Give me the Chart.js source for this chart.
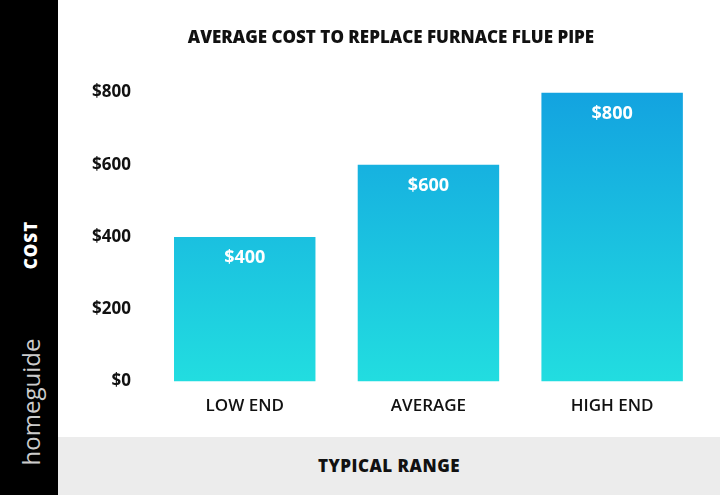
<!DOCTYPE html>
<html><head><meta charset="utf-8">
<script src="https://cdn.jsdelivr.net/npm/chart.js@4"></script>
<style>
body{margin:0;width:720px;height:495px;overflow:hidden;background:#fff;font-family:"Open Sans",sans-serif;position:relative}
#side{position:absolute;left:0;top:0;width:58px;height:495px;background:#000}
#cost{position:absolute;left:30px;top:245px;transform:translate(-50%,-50%) rotate(-90deg);color:#fff;font-weight:800;font-size:17px;letter-spacing:1px}
#logo{position:absolute;left:30px;top:402px;transform:translate(-50%,-50%) rotate(-90deg);color:#ccc;font-size:24px;white-space:nowrap}
#band{position:absolute;left:58px;top:437px;width:662px;height:58px;background:#ececec;text-align:center;line-height:58px;font-weight:800;font-size:17px;letter-spacing:0.5px;color:#111}
#wrap{position:absolute;left:58px;top:0;width:662px;height:437px}
</style></head><body>
<div id="side"><div id="cost">COST</div><div id="logo">homeguide</div></div>
<div id="wrap"><canvas id="c"></canvas></div>
<div id="band">TYPICAL RANGE</div>
<script>
const categories = ['LOW END','AVERAGE','HIGH END'];
const costs = [400,600,800];
const yTicks = [0,200,400,600,800];

const labelPlugin = {
  id:'vals',
  afterDatasetsDraw(chart){
    const {ctx} = chart;
    chart.getDatasetMeta(0).data.forEach((bar,i)=>{
      ctx.save();
      ctx.fillStyle='#fff';
      ctx.font='bold 18px "Open Sans"';
      ctx.textAlign='center';
      ctx.textBaseline='middle';
      ctx.fillText('$'+costs[i], bar.x, bar.y+21);
      ctx.restore();
    });
  }
};

new Chart(document.getElementById('c'),{
  type:'bar',
  data:{labels:categories,datasets:[{data:costs,
    backgroundColor(c){
      const a=c.chart.chartArea; if(!a) return '#1aa7e0';
      const g=c.chart.ctx.createLinearGradient(0,a.top,0,a.bottom);
      g.addColorStop(0,'#13a3e0'); g.addColorStop(1,'#22dde0'); return g;
    },
    barPercentage:0.77,categoryPercentage:1}]},
  options:{
    responsive:true,maintainAspectRatio:false,animation:false,
    layout:{padding:{left:20,right:16,top:0,bottom:15}},
    plugins:{legend:{display:false},tooltip:{enabled:false},
      title:{display:true,text:'AVERAGE COST TO REPLACE FURNACE FLUE PIPE',color:'#111',
        font:{family:'Open Sans',size:17,weight:'800'},padding:{top:28,bottom:44}}},
    scales:{
      x:{grid:{display:false},border:{display:false},
        ticks:{color:'#111',font:{family:'Open Sans',size:17,weight:'600'},padding:6}},
      y:{min:0,max:800,afterBuildTicks(s){s.ticks=yTicks.map(v=>({value:v}));},
        grid:{display:false},border:{display:false},
        ticks:{color:'#111',font:{family:'Open Sans',size:17,weight:'bold'},padding:14,callback:v=>'$'+v}}
    }
  },
  plugins:[labelPlugin]
});
</script>
</body></html>
